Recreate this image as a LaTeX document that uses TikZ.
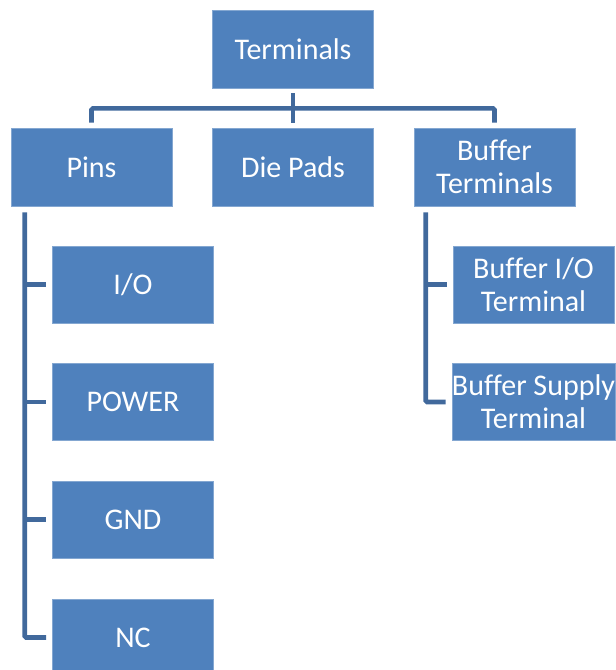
\documentclass[tikz,border=0pt]{standalone}
\usepackage{fontspec}
\setmainfont{Carlito}[Ligatures=CommonOff]
\usetikzlibrary{calc}
\definecolor{boxblue}{HTML}{4F81BD}
\definecolor{linkblue}{HTML}{41699C}
\begin{document}
\begin{tikzpicture}[x=1pt,y=-1pt,
  card/.style={rectangle, fill=boxblue, draw=boxblue!70!white, line width=0.6pt,
    minimum width=161pt, minimum height=78pt, inner sep=0pt, text=white,
    align=center, font=\fontsize{30}{33}\selectfont},
  conn/.style={draw=linkblue, line width=4.6pt, rounded corners=1.5pt}]
\useasboundingbox (0,0) rectangle (616,670);
\begin{scope}
\clip (0,0) rectangle (616,670);
% top level
\node[card] (term) at (293,49) {Terminals};
% second level
\node[card] (pins) at (91.5,167) {Pins};
\node[card] (die)  at (293,167) {Die Pads};
\node[card] (buf)  at (494.5,167) {Buffer\\Terminals};
% pin kinds
\node[card, minimum height=77pt] (io)  at (133,284.5) {I/O};
\node[card, minimum height=77pt] (pwr) at (133,402) {POWER};
\node[card, minimum height=77pt] (gnd) at (133,519.5) {GND};
\node[card, minimum height=77pt] (nc)  at (133,637.5) {NC};
% buffer terminal kinds
\node[card, minimum height=77pt] (bio) at (533.5,284.5) {Buffer I/O\\Terminal};
\node[card, minimum height=77pt] (bsup) at (533.5,402) {Buffer Supply\\Terminal};
\end{scope}
% tree links from the root
\draw[conn] ($(term.south)+(0,5)$) -- ($(term.south)+(0,20)$) -- ($(die.north)+(0,-5)$);
\draw[conn] ($(pins.north)+(0,-5)$) |- ($(term.south)+(0,20)$) -| ($(buf.north)+(0,-5)$);
% pins branch
\draw[conn] ($(pins.south west)+(14,6)$) |- ($(nc.west)+(-6,0)$);
\foreach \n in {io,pwr,gnd}
  \draw[conn] ($(\n.west)+(-28,0)$) -- ($(\n.west)+(-6,0)$);
% buffer terminals branch
\draw[conn] ($(buf.south west)+(12,6)$) |- ($(bsup.west)+(-6,0)$);
\draw[conn] ($(bio.west)+(-28,0)$) -- ($(bio.west)+(-6,0)$);
\end{tikzpicture}
\end{document}
